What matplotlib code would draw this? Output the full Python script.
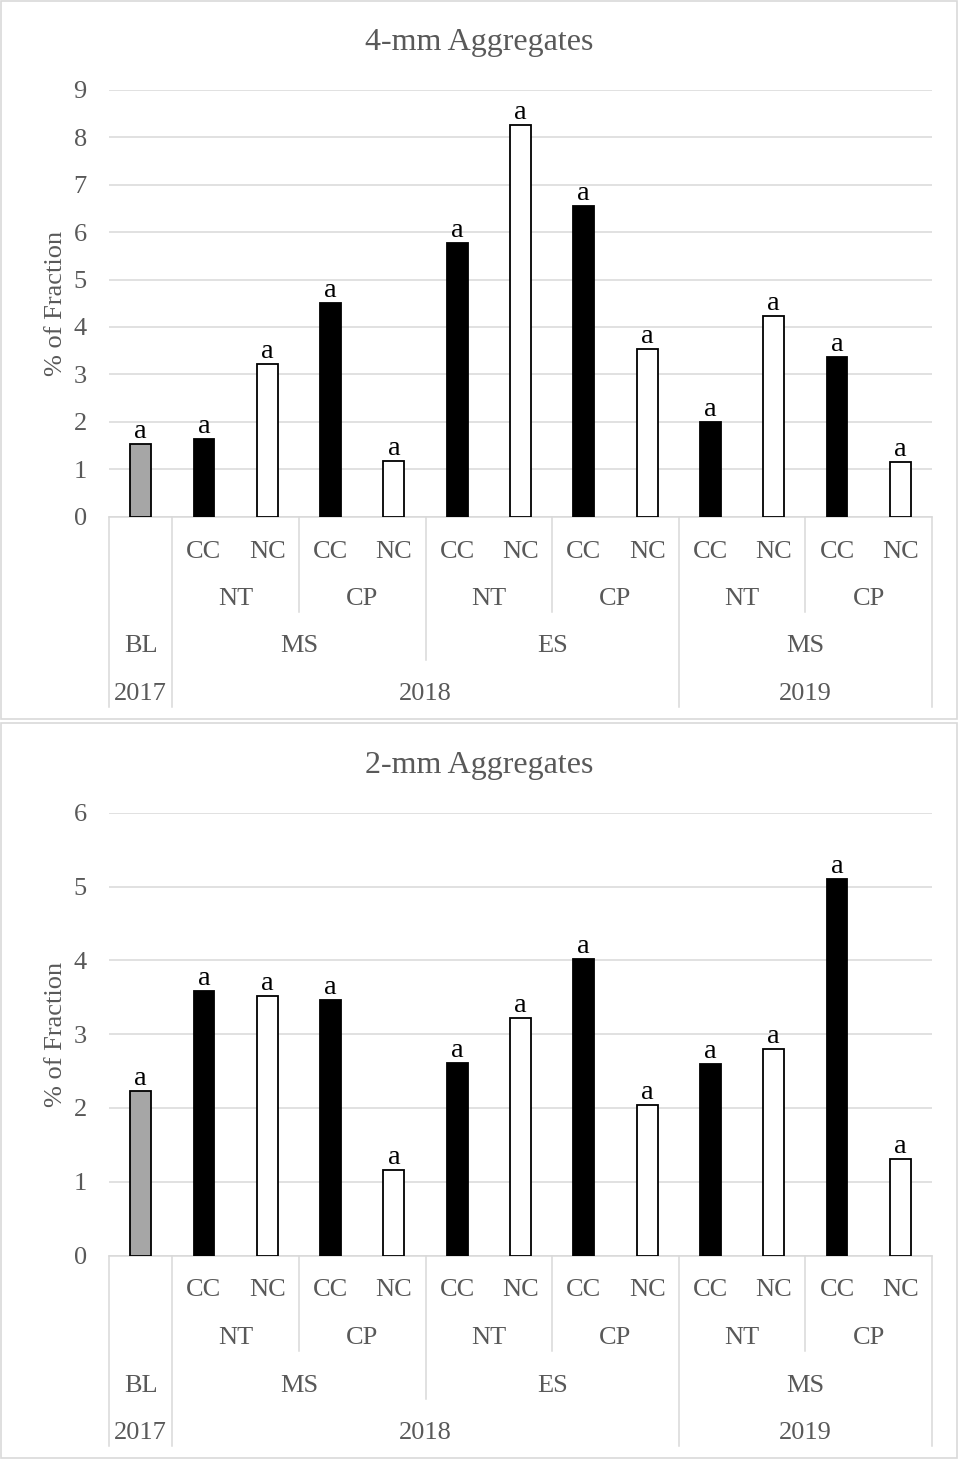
import matplotlib
matplotlib.use("Agg")
import matplotlib.pyplot as plt
from matplotlib.patches import Rectangle
from matplotlib.transforms import blended_transform_factory
import numpy as np

plt.rcParams['font.family'] = ['Liberation Serif', 'DejaVu Serif']

# ---- data ----
treatments = ["BL", "CC", "NC", "CC", "NC", "CC", "NC", "CC", "NC", "CC", "NC", "CC", "NC"]
tillage_labels = ["NT", "CP", "NT", "CP", "NT", "CP"]
tillage_centers = [1.5, 3.5, 5.5, 7.5, 9.5, 11.5]
season_labels = ["BL", "MS", "ES", "MS"]
season_centers = [0, 2.5, 6.5, 10.5]
year_labels = ["2017", "2018", "2019"]
year_centers = [0, 4.5, 10.5]
letters = ["a"] * 13

agg4mm = [1.53, 1.63, 3.22, 4.50, 1.18, 5.77, 8.27, 6.55, 3.54, 2.00, 4.23, 3.37, 1.15]
agg2mm = [2.23, 3.59, 3.52, 3.46, 1.16, 2.61, 3.22, 4.02, 2.04, 2.60, 2.80, 5.10, 1.31]

titles = ["4-mm Aggregates", "2-mm Aggregates"]
ymaxes = [9, 6]

# ---- styling ----
W, H = 959, 1460
fig = plt.figure(figsize=(W / 100, H / 100), dpi=100)
GRAY_TXT = "#595959"
GRID = "#d9d9d9"
LBL = 19

def fy(py):
    return 1 - py / H

# chart boxes
for (top, bot) in [(1, 719), (723, 1458)]:
    fig.patches.append(Rectangle((1 / W, fy(bot)), (W - 3) / W, (bot - top) / H,
                                 transform=fig.transFigure, fill=False,
                                 edgecolor=GRID, linewidth=1.2))

panels = [
    dict(data=agg4mm, top=90, axis=516.5, title_base=50),
    dict(data=agg2mm, top=812.7, axis=1255.5, title_base=773),
]

x = np.arange(len(treatments))
colors = []
for i, t in enumerate(treatments):
    if t == "BL":
        colors.append("#a6a6a6")
    elif t == "CC":
        colors.append("black")
    else:
        colors.append("white")

left_px, right_px = 109, 932
for k, p in enumerate(panels):
    ax = fig.add_axes([left_px / W, fy(p["axis"]), (right_px - left_px) / W,
                       (p["axis"] - p["top"]) / H])
    ax.bar(x, p["data"], width=0.33, color=colors, edgecolor="black",
           linewidth=1.3, zorder=3)
    for xi, v, l in zip(x, p["data"], letters):
        ax.annotate(l, (xi, v), xytext=(0, 0), textcoords="offset points",
                    ha="center", va="bottom", fontsize=20.5, color="black", zorder=4)
    ax.set_xlim(-0.5, len(treatments) - 0.5)
    ax.set_ylim(0, ymaxes[k])
    ax.set_yticks(range(0, ymaxes[k] + 1))
    ax.tick_params(axis="y", length=0, pad=16, labelsize=LBL, labelcolor=GRAY_TXT)
    ax.set_xticks([])
    ax.grid(axis="y", color=GRID, linewidth=1.1, zorder=0)
    for s in ["top", "right", "left"]:
        ax.spines[s].set_visible(False)
    ax.spines["bottom"].set_color(GRID)
    ax.spines["bottom"].set_linewidth(1.1)
    ax.spines["bottom"].set_zorder(2)
    ax.text(-0.0571, 0.5, "% of Fraction", transform=ax.transAxes, rotation=90,
            rotation_mode="anchor", ha="center", va="baseline", fontsize=19,
            color=GRAY_TXT)

    fig.text(0.5, fy(p["title_base"]), titles[k], ha="center", va="baseline",
             fontsize=23, color=GRAY_TXT)

    tr = blended_transform_factory(ax.transData, fig.transFigure)
    a = p["axis"]
    # label rows (baselines)
    for xi, t in zip(x[1:], treatments[1:]):
        ax.text(xi, fy(a + 41), t, transform=tr, ha="center", va="baseline",
                fontsize=LBL, color=GRAY_TXT, clip_on=False)
    for xc, t in zip(tillage_centers, tillage_labels):
        ax.text(xc, fy(a + 88.7), t, transform=tr, ha="center", va="baseline",
                fontsize=LBL, color=GRAY_TXT, clip_on=False)
    for xc, t in zip(season_centers, season_labels):
        ax.text(xc, fy(a + 136), t, transform=tr, ha="center", va="baseline",
                fontsize=LBL, color=GRAY_TXT, clip_on=False)
    for xc, t in zip(year_centers, year_labels):
        ax.text(xc, fy(a + 183.5), t, transform=tr, ha="center", va="baseline",
                fontsize=LBL, color=GRAY_TXT, clip_on=False)
    # separators
    seps = [(-0.5, 190.5), (0.5, 190.5), (2.5, 95.5), (4.5, 143.5), (6.5, 95.5),
            (8.5, 190.5), (10.5, 95.5), (12.5, 190.5)]
    for xs, depth in seps:
        ax.plot([xs, xs], [fy(a), fy(a + depth)], transform=tr, color=GRID,
                linewidth=1.1, clip_on=False)

fig.savefig("out.png", dpi=100)
